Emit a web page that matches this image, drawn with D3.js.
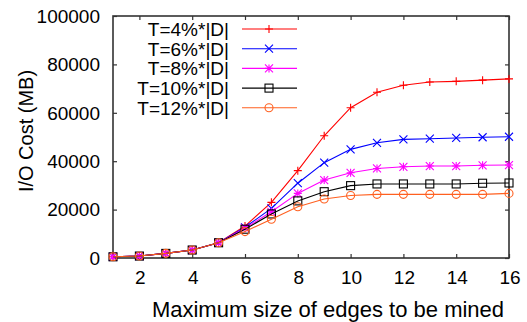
<!DOCTYPE html>
<html>
<head>
<meta charset="utf-8">
<script src="https://cdn.jsdelivr.net/npm/d3@7"></script>
<style>
body{margin:0;background:#fff;}
text{font-family:"Liberation Sans",Arial,sans-serif;fill:#000;}
</style>
</head>
<body>
<div class="chart"></div>
<script>
const xs=[1,2,3,4,5,6,7,8,9,10,11,12,13,14,15,16];
const t4=[500,800,1900,3300,6300,13200,23000,36100,50500,62100,68500,71400,72700,73000,73500,74000];
const t6=[500,800,1900,3300,6300,12700,20500,30900,39400,44900,47600,49000,49300,49600,49900,50100];
const t8=[500,800,1900,3300,6300,12300,19100,26700,32200,35200,37000,37700,38000,38000,38300,38400];
const t10=[500,800,1900,3300,6300,11900,18200,23600,27400,29900,30600,30600,30600,30600,30900,31000];
const t12=[500,800,1900,3300,6300,10900,16000,21200,24400,25800,26300,26300,26300,26300,26300,26700];
const names=['T=4%*|D|','T=6%*|D|','T=8%*|D|','T=10%*|D|','T=12%*|D|'];
const colors=['#ff0000','#0000ff','#ff00ff','#000000','#ff6020'];
const shapes=['plus','cross','star','square','circle'];
const xTicks=[2,4,6,8,10,12,14,16];
const yTicks=[0,20000,40000,60000,80000,100000];

const series=[t4,t6,t8,t10,t12];

const width=527, height=322;
const mLeft=113, mRight=509, mTop=16, mBottom=258;

const svg=d3.select('.chart').append('svg')
	.attr('width',width)
	.attr('height',height)

const x=d3.scaleLinear().domain([1,16]).range([mLeft,mRight]);
const y=d3.scaleLinear().domain([0,100000]).range([mBottom,mTop]);

// ticks (inward, mirrored like gnuplot)
const tl=4;
svg.append('g').attr('transform','translate(0,'+mBottom+')')
	.call(d3.axisTop(x).tickValues(xTicks).tickSize(tl).tickFormat(''))
svg.append('g').attr('transform','translate(0,'+mTop+')')
	.call(d3.axisBottom(x).tickValues(xTicks).tickSize(tl).tickFormat(''))
svg.append('g').attr('transform','translate('+mLeft+',0)')
	.call(d3.axisRight(y).tickValues(yTicks).tickSize(tl).tickFormat(''))
svg.append('g').attr('transform','translate('+mRight+',0)')
	.call(d3.axisLeft(y).tickValues(yTicks).tickSize(tl).tickFormat(''))
svg.selectAll('.domain').remove();
svg.selectAll('.tick line').attr('stroke','#333').attr('stroke-width',1.2);

// tick labels
svg.selectAll('.xl').data(xTicks).enter().append('text')
	.attr('x',d=>x(d)+1).attr('y',284)
	.attr('text-anchor','middle').attr('font-size',19)
	.text(d=>d)
svg.selectAll('.yl').data(yTicks).enter().append('text')
	.attr('x',100).attr('y',d=>y(d)+6.8)
	.attr('text-anchor','end').attr('font-size',19)
	.text(d=>d)

// frame
svg.append('rect')
	.attr('x',mLeft).attr('y',mTop)
	.attr('width',mRight-mLeft).attr('height',mBottom-mTop)
	.attr('fill','none').attr('stroke','#333').attr('stroke-width',1.6)

// axis titles
svg.append('text')
	.attr('x',328).attr('y',317)
	.attr('text-anchor','middle').attr('font-size',22)
	.text('Maximum size of edges to be mined')
svg.append('text')
	.attr('transform','translate(33,131) rotate(-90)')
	.attr('text-anchor','middle').attr('font-size',20)
	.text('I/O Cost (MB)')

function marker(g,shape,color){
	const s=4;
	if(shape=='plus'){
		g.append('path').attr('d','M'+(-s)+',0H'+s+'M0,'+(-s)+'V'+s).attr('stroke',color)
	} else if(shape=='cross'){
		g.append('path').attr('d','M'+(-s)+','+(-s)+'L'+s+','+s+'M'+(-s)+','+s+'L'+s+','+(-s)).attr('stroke',color)
	} else if(shape=='star'){
		g.append('path').attr('d','M'+(-s)+',0H'+s+'M0,'+(-s)+'V'+s+'M'+(-s)+','+(-s)+'L'+s+','+s+'M'+(-s)+','+s+'L'+s+','+(-s)).attr('stroke',color)
	} else if(shape=='square'){
		g.append('rect').attr('x',-s).attr('y',-s).attr('width',2*s).attr('height',2*s)
			.attr('fill','none').attr('stroke',color)
	} else {
		g.append('circle').attr('r',s).attr('fill','none').attr('stroke',color)
	}
}

const line=d3.line().x((d,i)=>x(xs[i])).y(d=>y(d));

series.forEach(function(vals,k){
	svg.append('path')
		.attr('d',line(vals))
		.attr('fill','none')
		.attr('stroke',colors[k])
		.attr('stroke-width',1.1)
	vals.forEach(function(v,i){
		const g=svg.append('g').attr('transform','translate('+x(xs[i])+','+y(v)+')')
			.attr('stroke-width',1.1)
		marker(g,shapes[k],colors[k])
	})
})

// legend
names.forEach(function(n,k){
	const ly=29+k*19.7;
	svg.append('text')
		.attr('x',229).attr('y',ly+6.8)
		.attr('text-anchor','end').attr('font-size',19)
		.text(n)
	svg.append('line')
		.attr('x1',242).attr('x2',297)
		.attr('y1',ly).attr('y2',ly)
		.attr('stroke',colors[k]).attr('stroke-width',1.1)
	const g=svg.append('g').attr('transform','translate(269,'+ly+')').attr('stroke-width',1.1)
	marker(g,shapes[k],colors[k])
})
</script>
</body>
</html>
